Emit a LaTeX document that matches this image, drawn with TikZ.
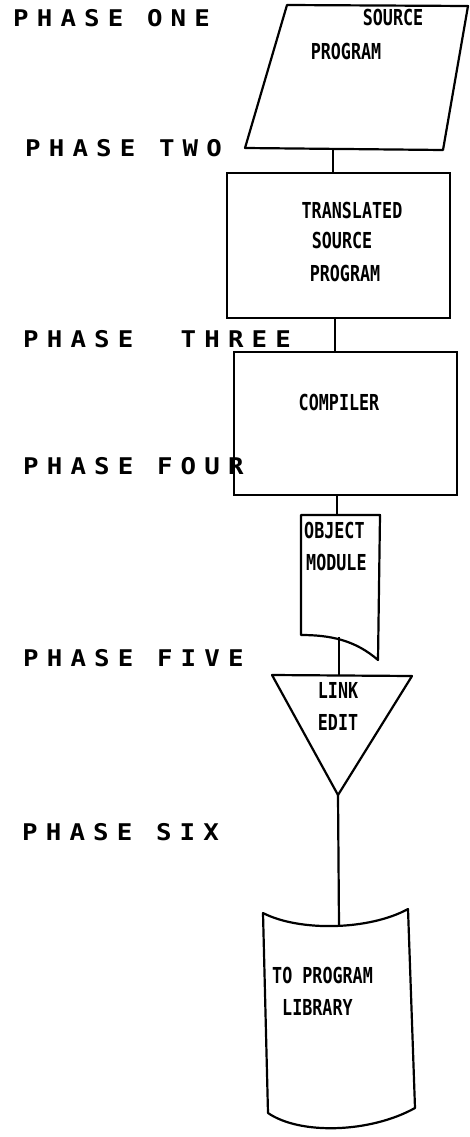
\documentclass[tikz,border=0pt]{standalone}
\usepackage{fontspec}
\newfontfamily\phasefont[LetterSpace=35.5,FakeStretch=1.12]{DejaVu Sans Mono Bold}
\newfontfamily\boxfont[FakeStretch=0.76]{DejaVu Sans Mono Bold}
\begin{document}
\begin{tikzpicture}[x=1pt,y=-1pt,
  shp/.style={draw=black,line width=2.2pt,line join=round},
  conn/.style={draw=black,line width=2.2pt},
  phase/.style={anchor=base west,inner sep=0pt,font=\phasefont\fontsize{23}{26}\selectfont},
  boxtxt/.style={anchor=base,inner sep=0pt,font=\boxfont\fontsize{22}{25}\selectfont},
  boxtxtl/.style={anchor=base west,inner sep=0pt,font=\boxfont\fontsize{22}{25}\selectfont},
  rectbox/.style={draw=black,line width=2.2pt,minimum width=223pt,inner sep=0pt}]
\path[use as bounding box,fill=white] (0,0) rectangle (470,1137);

% phase labels
\node[phase] (p1) at (13,27) {PHASE ONE};
\node[phase] (p2) at (25,156) {PHASE TWO};
\node[phase] (p3) at (23,347) {PHASE~~THREE};
\node[phase] (p4) at (23,474) {PHASE FOUR};
\node[phase] (p5) at (23,666) {PHASE FIVE};
\node[phase] (p6) at (22,840) {PHASE SIX};

% source program parallelogram
\draw[shp] (287,5) -- (468,6) -- (443,150) -- (245,148) -- cycle;
\coordinate (srcb) at (333,149);
\node[boxtxt] (t1) at (393,26) {SOURCE};
\node[boxtxt] (t2) at (346,60) {PROGRAM};

% translated source program
\node[rectbox,minimum height=145pt] (trans) at (338.5,245.5) {};
\node[boxtxt] (t3) at (352,218) {TRANSLATED};
\node[boxtxt] (t4) at (342,248) {SOURCE};
\node[boxtxt] (t5) at (345,281) {PROGRAM};

% compiler
\node[rectbox,minimum height=143pt] (comp) at (345.5,423.5) {};
\node[boxtxt] (t6) at (339,410) {COMPILER};

% object module (document)
\draw[shp] (301,515) -- (380,515) -- (378,660) .. controls (355,640) and (330,635) .. (301,635) -- cycle;
\coordinate (objt) at (337,515);
\coordinate (objb) at (339,637);
\node[boxtxtl] (t7) at (304,538) {OBJECT};
\node[boxtxtl] (t8) at (306,570) {MODULE};

% link edit triangle
\draw[shp] (272,675) -- (412,676) -- (338,795) -- cycle;
\coordinate (trit) at (339,675);
\coordinate (trib) at (338,795);
\node[boxtxt] (t9) at (338,698) {LINK};
\node[boxtxt] (t10) at (338,730) {EDIT};

% program library
\draw[shp] (263,913) .. controls (300,932) and (370,930) .. (408,909)
  -- (415,1108) .. controls (370,1133) and (300,1135) .. (268,1113) -- cycle;
\coordinate (libt) at (339,926);
\node[boxtxtl] (t11) at (272,983) {TO PROGRAM};
\node[boxtxtl] (t12) at (282,1015) {LIBRARY};

% connectors
\draw[conn] (srcb) -- (srcb |- trans.north);
\draw[conn] (trans.south -| 335,0) -- (comp.north -| 335,0);
\draw[conn] (comp.south -| objt) -- (objt);
\draw[conn] (objb) -- (trit);
\draw[conn] (trib) -- (libt);
\end{tikzpicture}
\end{document}
